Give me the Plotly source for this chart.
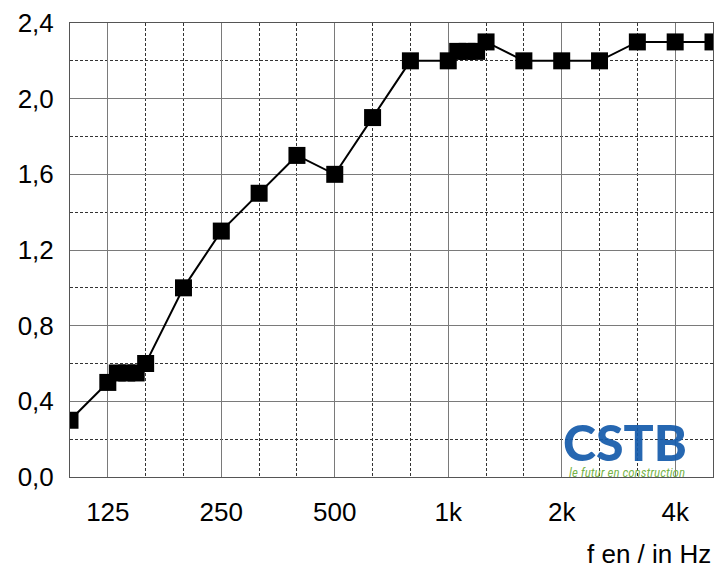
import plotly.graph_objects as go

# 1/3-octave band labels (index positions 0..17 on the x axis)
bands = ["100", "125", "160", "200", "250", "315", "400", "500", "630", "800",
         "1k", "1.25k", "1.6k", "2k", "2.5k", "3.15k", "4k", "5k"]
tick_idx = [1, 4, 7, 10, 13, 16]
tick_labels = ["125", "250", "500", "1k", "2k", "4k"]

# measured series (x as band index, incl. the overlapping intermediate points)
x_vals = [0, 1, 1.25, 1.5, 1.75, 2, 3, 4, 5, 6, 7, 8, 9,
          10, 10.25, 10.5, 10.75, 11, 12, 13, 14, 15, 16, 17]
alpha_s = [0.30, 0.50, 0.55, 0.55, 0.55, 0.60, 1.00, 1.30, 1.50, 1.70, 1.60, 1.90, 2.20,
           2.20, 2.25, 2.25, 2.25, 2.30, 2.20, 2.20, 2.20, 2.30, 2.30, 2.30]

y_ticks = [0.0, 0.4, 0.8, 1.2, 1.6, 2.0, 2.4]
y_labels = ["0,0", "0,4", "0,8", "1,2", "1,6", "2,0", "2,4"]

FONT = "Liberation Sans, Arial, sans-serif"
LOGO_FONT = "Lato, Roboto, sans-serif"
TAG_FONT = "Liberation Sans Narrow, Roboto Condensed, Roboto, sans-serif"

fig = go.Figure()
fig.add_trace(go.Scatter(
    x=x_vals, y=alpha_s, mode="lines+markers",
    line=dict(color="black", width=2),
    marker=dict(symbol="square", size=17, color="black"),
    cliponaxis=True, showlegend=False,
))

fig.update_layout(
    width=717, height=572,
    margin=dict(l=70, r=4, t=23, b=95),
    paper_bgcolor="white", plot_bgcolor="white",
    font=dict(family=FONT, size=26, color="black"),
    xaxis=dict(
        range=[0, 17], tickvals=tick_idx, ticktext=tick_labels,
        showgrid=True, gridcolor="#7a7a7a", gridwidth=1,
        minor=dict(dtick=1, tick0=0, showgrid=True, gridcolor="#333333",
                   griddash="3px,2px", gridwidth=1),
        showline=True, linecolor="#555555", linewidth=1, mirror=True,
        ticks="", ticklabelstandoff=12, zeroline=False, automargin=False,
        tickfont=dict(size=26),
    ),
    yaxis=dict(
        range=[0, 2.4], tickvals=y_ticks, ticktext=y_labels,
        showgrid=True, gridcolor="#7a7a7a", gridwidth=1,
        minor=dict(dtick=0.2, tick0=0, showgrid=True, gridcolor="#333333",
                   griddash="3px,2px", gridwidth=1),
        showline=True, linecolor="#555555", linewidth=1, mirror=True,
        ticks="", ticklabelstandoff=10, zeroline=False, automargin=False,
        tickfont=dict(size=26),
    ),
    annotations=[
        dict(text="f en / in Hz", xref="paper", yref="paper", x=1.0, y=0,
             yshift=-77, xanchor="right", yanchor="middle", showarrow=False,
             font=dict(size=26, family=FONT, color="black")),
        dict(text="CSTB", xref="paper", yref="paper", x=0.962, y=0,
             yshift=35, xanchor="right", yanchor="middle", showarrow=False,
             font=dict(size=50, family=LOGO_FONT, weight=900,
                       color="rgba(20,90,170,0.92)")),
        dict(text="<i>le futur en construction</i>", xref="paper", yref="paper",
             x=0.96, y=0, yshift=5, xanchor="right", yanchor="middle", showarrow=False,
             font=dict(size=13, family=TAG_FONT, color="rgba(110,175,60,0.95)")),
    ],
)

fig.write_html("out.html", config={"displayModeBar": False},
               post_script="document.body.style.margin='0px';")
